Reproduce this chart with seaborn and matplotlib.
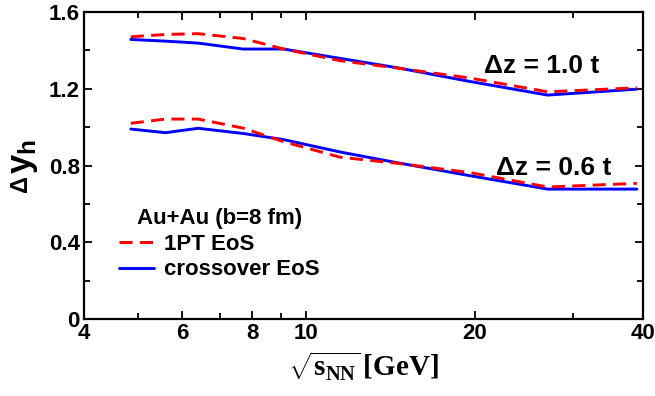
import numpy as np
import pandas as pd
import matplotlib
matplotlib.use("Agg")
import matplotlib.pyplot as plt
import seaborn as sns
from matplotlib.ticker import FixedLocator, NullFormatter, FixedFormatter

sns.set_style("ticks")
plt.rcParams['font.family'] = ['Liberation Sans', 'DejaVu Sans']
plt.rcParams['mathtext.fontset'] = 'custom'
plt.rcParams['mathtext.rm'] = 'Liberation Serif:bold'
plt.rcParams['mathtext.it'] = 'Liberation Serif:bold'
plt.rcParams['mathtext.bf'] = 'Liberation Serif:bold'
plt.rcParams['mathtext.sf'] = 'Liberation Sans:bold'
for k in ['text.color', 'axes.labelcolor', 'xtick.color', 'ytick.color',
          'xtick.labelcolor', 'ytick.labelcolor', 'axes.edgecolor']:
    plt.rcParams[k] = 'black'

# data
energies = [4.85, 5.6, 6.4, 7.7, 9.1, 11.5, 14.5, 19.6, 27.0, 39.0]
pt_dz10 = [1.471, 1.483, 1.487, 1.462, 1.407, 1.346, 1.308, 1.256, 1.184, 1.205]
cr_dz10 = [1.457, 1.448, 1.438, 1.407, 1.407, 1.358, 1.310, 1.238, 1.167, 1.198]
pt_dz06 = [1.020, 1.042, 1.042, 0.995, 0.924, 0.843, 0.812, 0.763, 0.688, 0.707]
cr_dz06 = [0.990, 0.971, 0.994, 0.967, 0.935, 0.870, 0.815, 0.747, 0.677, 0.677]
x_ticks = [4, 6, 8, 10, 20, 40]
x_minor = [5, 7, 9, 30]
y_ticks = [0, 0.4, 0.8, 1.2, 1.6]
y_tick_labels = ["0", "0.4", "0.8", "1.2", "1.6"]

df = pd.concat([
    pd.DataFrame({"e": energies, "dy": pt_dz10, "eos": "1PT EoS", "dz": "1.0"}),
    pd.DataFrame({"e": energies, "dy": cr_dz10, "eos": "crossover EoS", "dz": "1.0"}),
    pd.DataFrame({"e": energies, "dy": pt_dz06, "eos": "1PT EoS", "dz": "0.6"}),
    pd.DataFrame({"e": energies, "dy": cr_dz06, "eos": "crossover EoS", "dz": "0.6"}),
])

W, H = 655, 396
fig = plt.figure(figsize=(W/100, H/100), dpi=100)
ax = fig.add_axes([84/W, 1-319/H, (643-84)/W, (319-12)/H])

styles = {"1PT EoS": dict(color="#ff0000", dashes=(4.5, 2.5)),
          "crossover EoS": dict(color="#0000ff")}
for dz in ["1.0", "0.6"]:
    for eos in ["1PT EoS", "crossover EoS"]:
        sub = df[(df.eos == eos) & (df.dz == dz)]
        st = styles[eos]
        sns.lineplot(data=sub, x="e", y="dy", ax=ax, sort=False,
                     color=st["color"], lw=2.1,
                     label=eos if dz == "1.0" else None)
        ln = ax.lines[-1]
        if "dashes" in st:
            ln.set_dashes(st["dashes"])
        ln.set_zorder(3 if eos == "1PT EoS" else 2)

ax.set_xscale("log")
ax.set_xlim(4, 40)
ax.set_ylim(0, 1.6)
ax.xaxis.set_major_locator(FixedLocator(x_ticks))
ax.xaxis.set_major_formatter(FixedFormatter([str(t) for t in x_ticks]))
ax.xaxis.set_minor_locator(FixedLocator(x_minor))
ax.xaxis.set_minor_formatter(NullFormatter())
ax.yaxis.set_major_locator(FixedLocator(y_ticks))
ax.yaxis.set_major_formatter(FixedFormatter(y_tick_labels))
ax.yaxis.set_minor_locator(FixedLocator([0.2, 0.6, 1.0, 1.4]))

ax.tick_params(which="both", direction="in", top=True, right=True, width=1.3,
               color="black", labelcolor="black")
ax.tick_params(which="major", length=6, labelsize=16, pad=3)
ax.tick_params(which="minor", length=4)
for lab in ax.get_xticklabels() + ax.get_yticklabels():
    lab.set_fontweight("bold")
for s in ax.spines.values():
    s.set_visible(True)
    s.set_linewidth(1.6)
    s.set_color("black")

ax.set_xlabel(r"$\sqrt{s_{NN}}\,[GeV]$", fontsize=21, labelpad=4, color="black")
ax.set_ylabel("")

# y-axis label composed of a small Delta and a large y with subscript h
fig.text(20/W, 1-184/H, "Δ", fontsize=17, fontweight="bold", rotation=90,
         ha="center", va="center", color="black")
fig.text(24/W, 1-156/H, r"$\mathsf{y_h}$", fontsize=25, rotation=90,
         ha="center", va="center", color="black")

ax.text(26.3, 1.282, "Δz = 1.0 t", fontsize=19, fontweight="bold", ha="center",
        va="baseline", color="black")
ax.text(27.7, 0.750, "Δz = 0.6 t", fontsize=19, fontweight="bold", ha="center",
        va="baseline", color="black")

leg = ax.legend(loc="upper left", bbox_to_anchor=(0.062, 0.36), frameon=False,
                title="Au+Au (b=8 fm)", handlelength=1.6, handletextpad=0.45,
                labelspacing=0.2, borderaxespad=0, borderpad=0,
                prop={"weight": "bold", "size": 16},
                title_fontproperties={"weight": "bold", "size": 16},
                labelcolor="black")
leg.get_title().set_color("black")

fig.savefig("out.png", dpi=100)
